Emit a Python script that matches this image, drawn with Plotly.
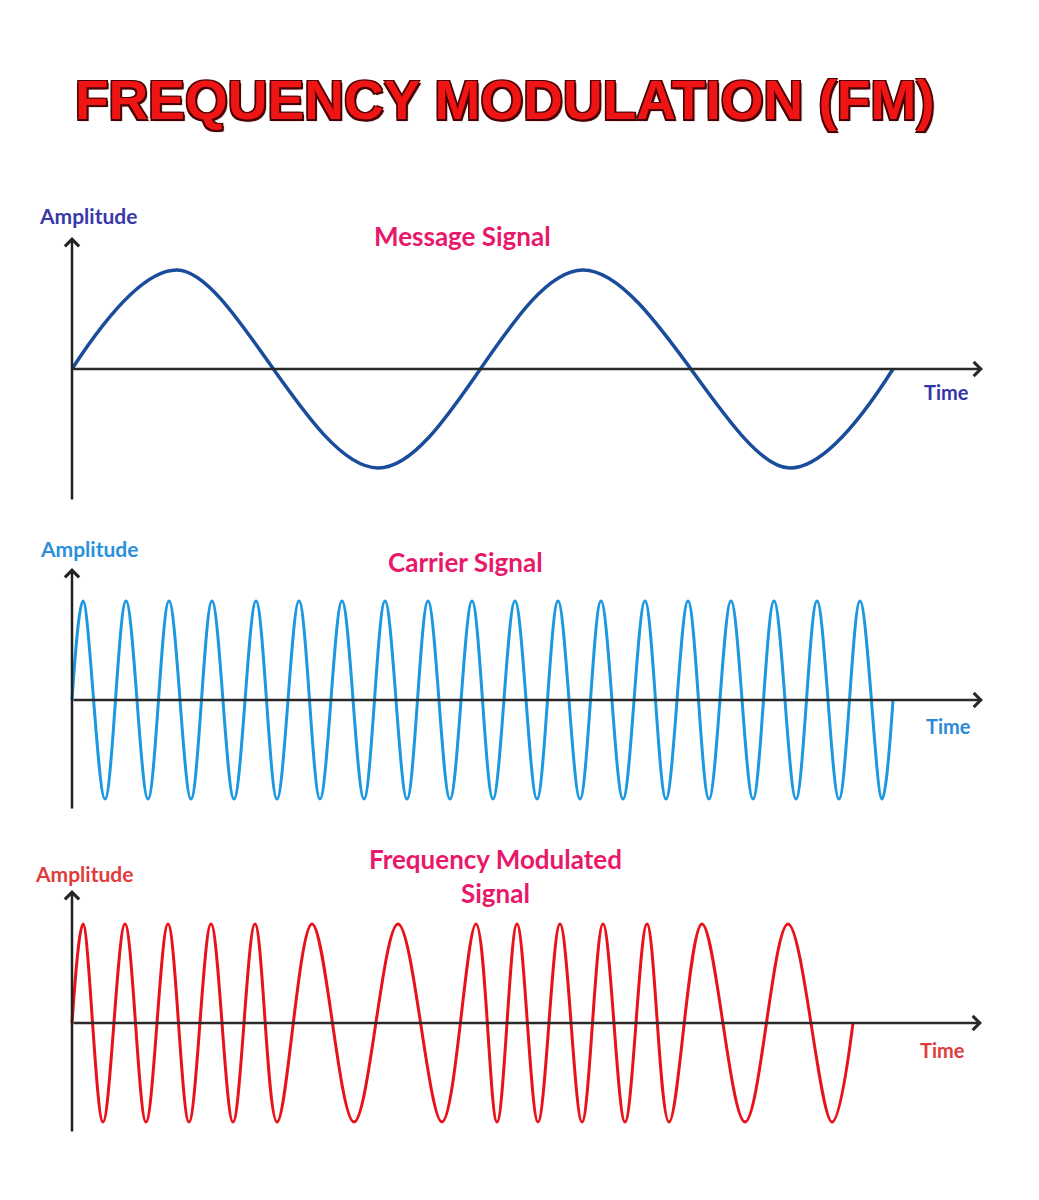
import plotly.graph_objects as go

W, H = 1039, 1200
ORIGIN_PX = 72          # pixel x of the time origin
S = 99.0                # pixels per amplitude unit

# ---------------- data ----------------
# Message signal: extrema (time, amplitude)
msg_t = [0, 105, 306, 511, 718, 821]
msg_v = [0, 1, -1, 1, -1, 0]

# Carrier signal: 19 cycles, extrema times
car_peaks = [11, 54, 97, 140, 184, 227, 270, 313, 356, 400, 443, 486, 529, 573, 616, 659, 702, 745, 788]
car_troughs = [33, 76, 119, 162, 205, 248, 292, 335, 378, 421, 465, 508, 551, 594, 637, 681, 724, 767, 810]
car_start, car_end = 0, 821

# Frequency modulated signal: extrema times
fm_peaks = [11, 53, 96, 139, 183, 240, 326, 404, 445, 488, 531, 575, 630, 716]
fm_troughs = [31, 74, 117, 161, 205, 282, 370, 425, 466, 510, 553, 597, 673, 760]
fm_start, fm_end = 0, 781

title_text = "FREQUENCY MODULATION (FM)"
panel_titles = ["Message Signal", "Carrier Signal", "Frequency Modulated<br>Signal"]
y_label = "Amplitude"
x_label = "Time"


def build(start, peaks, troughs, end):
    pts = [(start, 0.0)] + [(p, 1.0) for p in peaks] + [(t, -1.0) for t in troughs] + [(end, 0.0)]
    pts.sort(key=lambda p: p[0])
    return [p[0] for p in pts], [p[1] for p in pts]


car_t, car_v = build(car_start, car_peaks, car_troughs, car_end)
fm_t, fm_v = build(fm_start, fm_peaks, fm_troughs, fm_end)

# ---------------- layout helpers ----------------
panels = [
    dict(top=225, bottom=515, zero=369, ybot=501, ytip=237, xtip=983),
    dict(top=555, bottom=825, zero=700, ybot=810, ytip=568, xtip=983),
    dict(top=875, bottom=1150, zero=1023, ybot=1133, ytip=890, xtip=982),
]

fig = go.Figure()

series = [
    (msg_t, msg_v, "#1a4c9c", 3.5),
    (car_t, car_v, "#1b98e0", 3),
    (fm_t, fm_v, "#e8121a", 3),
]

annotations = []
for i, (p, (t, v, col, lw)) in enumerate(zip(panels, series), start=1):
    xa = "x" if i == 1 else f"x{i}"
    ya = "y" if i == 1 else f"y{i}"
    fig.add_trace(go.Scatter(x=t, y=v, mode="lines", xaxis=xa, yaxis=ya,
                             line=dict(color=col, width=lw, shape="spline", smoothing=1.0),
                             showlegend=False, hoverinfo="skip"))
    lay_x = "xaxis" if i == 1 else f"xaxis{i}"
    lay_y = "yaxis" if i == 1 else f"yaxis{i}"
    fig.layout[lay_x] = dict(domain=[0, 1], range=[-ORIGIN_PX, W - ORIGIN_PX], visible=False,
                             anchor=ya, fixedrange=True)
    fig.layout[lay_y] = dict(domain=[1 - p["bottom"] / H, 1 - p["top"] / H],
                             range=[(p["zero"] - p["bottom"]) / S, (p["zero"] - p["top"]) / S],
                             visible=False, anchor=xa, fixedrange=True)
    # y axis arrow
    annotations.append(dict(x=0, y=(p["zero"] - p["ytip"]) / S, xref=xa, yref=ya,
                            ax=0, ay=(p["zero"] - p["ybot"]) / S, axref=xa, ayref=ya,
                            text="", showarrow=True, arrowhead=4, arrowsize=1.1,
                            arrowwidth=2.5, arrowcolor="#222222"))
    # x axis arrow
    annotations.append(dict(x=p["xtip"] - ORIGIN_PX, y=0, xref=xa, yref=ya,
                            ax=0, ay=0, axref=xa, ayref=ya,
                            text="", showarrow=True, arrowhead=4, arrowsize=1.1,
                            arrowwidth=2.5, arrowcolor="#2a2a2a"))

LBL = "Lato"
label_specs = [
    # text, x px, y px, color, size
    (y_label, 88, 216, "#3838aa", 21),
    (panel_titles[0], 462, 236, "#e8196b", 26),
    (x_label, 946, 392, "#3535a8", 20),
    (y_label, 89, 548, "#2a90dc", 21),
    (panel_titles[1], 465, 562, "#e8196b", 26),
    (x_label, 948, 726, "#2a8ad8", 20),
    (y_label, 84, 873, "#e03c3c", 21),
    (panel_titles[2], 495, 876, "#e8196b", 26),
    (x_label, 942, 1050, "#e03c3c", 20),
]
for txt, px, py, col, sz in label_specs:
    annotations.append(dict(text=txt, x=px / W, y=1 - py / H, xref="paper", yref="paper",
                            xanchor="center", yanchor="middle", showarrow=False,
                            font=dict(family=LBL, size=sz, color=col, weight="bold")))

# main title
annotations.append(dict(text=title_text, x=505 / W, y=1 - 100 / H, xref="paper", yref="paper",
                        xanchor="center", yanchor="middle", showarrow=False,
                        font=dict(family="Liberation Sans", size=55, color="#f01515", weight="bold",
                                  shadow="1.5px 1.5px 0 #4a0000, -1.5px -1.5px 0 #4a0000, 1.5px -1.5px 0 #4a0000, -1.5px 1.5px 0 #4a0000, 2px 2px 1px #300000")))

fig.update_layout(width=W, height=H, margin=dict(l=0, r=0, t=0, b=0),
                  paper_bgcolor="white", plot_bgcolor="white",
                  annotations=annotations, showlegend=False)

fig.write_html("out.html", config={"displayModeBar": False})
